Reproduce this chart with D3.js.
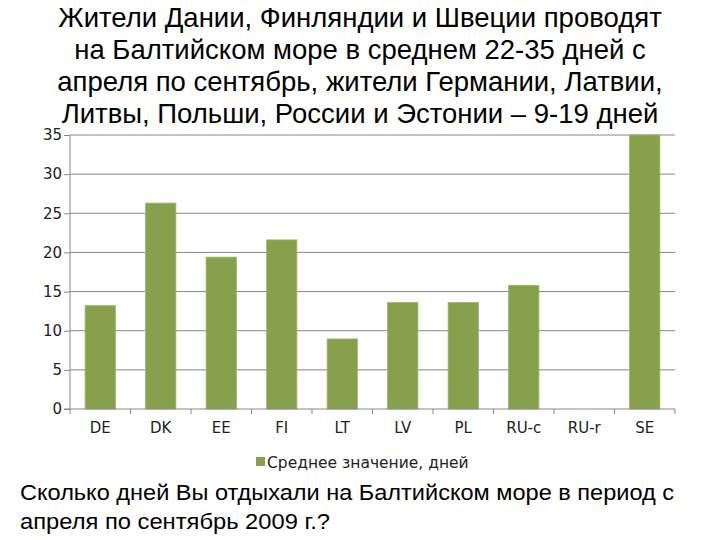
<!DOCTYPE html>
<html><head><meta charset="utf-8">
<script src="https://cdn.jsdelivr.net/npm/d3@7"></script>
<style>body{margin:0;background:#fff}svg{display:block}</style>
</head><body>
<svg id="c" width="720" height="540"></svg>
<script>
const categories = ["DE","DK","EE","FI","LT","LV","PL","RU-c","RU-r","SE"];
const values = [13.2, 26.3, 19.4, 21.6, 8.95, 13.6, 13.6, 15.8, 0, 35];
const yTicks = [0,5,10,15,20,25,30,35];
const seriesName = "Среднее значение, дней";
const titleLines = [
  "Жители Дании, Финляндии и Швеции проводят",
  "на Балтийском море в среднем 22-35 дней с",
  "апреля по сентябрь, жители Германии, Латвии,",
  "Литвы, Польши, России и Эстонии – 9-19 дней"
];
const footLines = [
  "Сколько дней Вы отдыхали на Балтийском море в период с",
  "апреля по сентябрь 2009 г.?"
];

const svg = d3.select("#c");
const L = 70, R = 675, T = 135, B = 409;
const x = d3.scaleBand().domain(categories).range([L, R]).paddingInner(0.5).paddingOuter(0.25);
const y = d3.scaleLinear().domain([0, 35]).range([B, T]);

// gridlines
svg.append("g").selectAll("line").data(yTicks.filter(d=>d>0)).join("line")
  .attr("x1", L).attr("x2", R).attr("y1", d=>y(d)).attr("y2", d=>y(d))
  .attr("stroke", "#868686").attr("stroke-width", 1);

// bars
svg.append("g").selectAll("rect").data(values.map((v,i)=>({c:categories[i], v}))).join("rect")
  .attr("x", d=>x(d.c)).attr("width", x.bandwidth())
  .attr("y", d=>y(d.v)).attr("height", d=>B - y(d.v))
  .attr("fill", "#87a04c").attr("stroke", "#9db566").attr("stroke-width", 0.8);

// y axis
const ya = d3.axisLeft(y).tickValues(yTicks).tickSize(6).tickPadding(2);
const gy = svg.append("g").attr("transform", `translate(${L},0)`).call(ya);
gy.select(".domain").attr("stroke", "#868686").attr("d", `M0,${B}V${T}`);
gy.selectAll(".tick line").attr("stroke", "#868686");
gy.selectAll("text").attr("font-family", "DejaVu Sans").attr("font-size", 15).attr("fill", "#222");

// x axis
const xTickPos = categories.map((c,i)=>L + i*(R-L)/categories.length).concat([R]);
const gx = svg.append("g").attr("transform", `translate(0,${B})`);
gx.append("line").attr("x1", L-6).attr("x2", R).attr("stroke", "#868686");
gx.selectAll("line.t").data(xTickPos).join("line").attr("class","t")
  .attr("x1", d=>d).attr("x2", d=>d).attr("y1", 0).attr("y2", 5).attr("stroke", "#868686");
gx.selectAll("text").data(categories).join("text")
  .attr("x", d=>x(d)+x.bandwidth()/2).attr("y", 24)
  .attr("text-anchor","middle").attr("font-family","DejaVu Sans").attr("font-size", 15).attr("fill","#222")
  .text(d=>d);

// legend
const lg = svg.append("g");
lg.append("text").attr("x", 267).attr("y", 468).attr("font-family","DejaVu Sans")
  .attr("font-size", 15.5).attr("fill","#222").text(seriesName);
lg.append("rect").attr("x", 256).attr("y", 457).attr("width", 9).attr("height", 9).attr("fill", "#87a04c");

// title
svg.append("g").selectAll("text").data(titleLines).join("text")
  .attr("x", 360).attr("y", (d,i)=>27 + i*32).attr("text-anchor","middle")
  .attr("font-family","Liberation Sans, Arial").attr("font-size", 27.5).attr("fill","#000").text(d=>d);

// footer
const footLen = [654, 310];
svg.append("g").selectAll("text").data(footLines).join("text")
  .attr("x", 20).attr("y", (d,i)=>500 + i*29)
  .attr("font-family","Liberation Sans, Arial").attr("font-size", 22).attr("fill","#000")
  .attr("textLength", (d,i)=>footLen[i]).attr("lengthAdjust","spacingAndGlyphs")
  .text(d=>d);
</script>
</body></html>
